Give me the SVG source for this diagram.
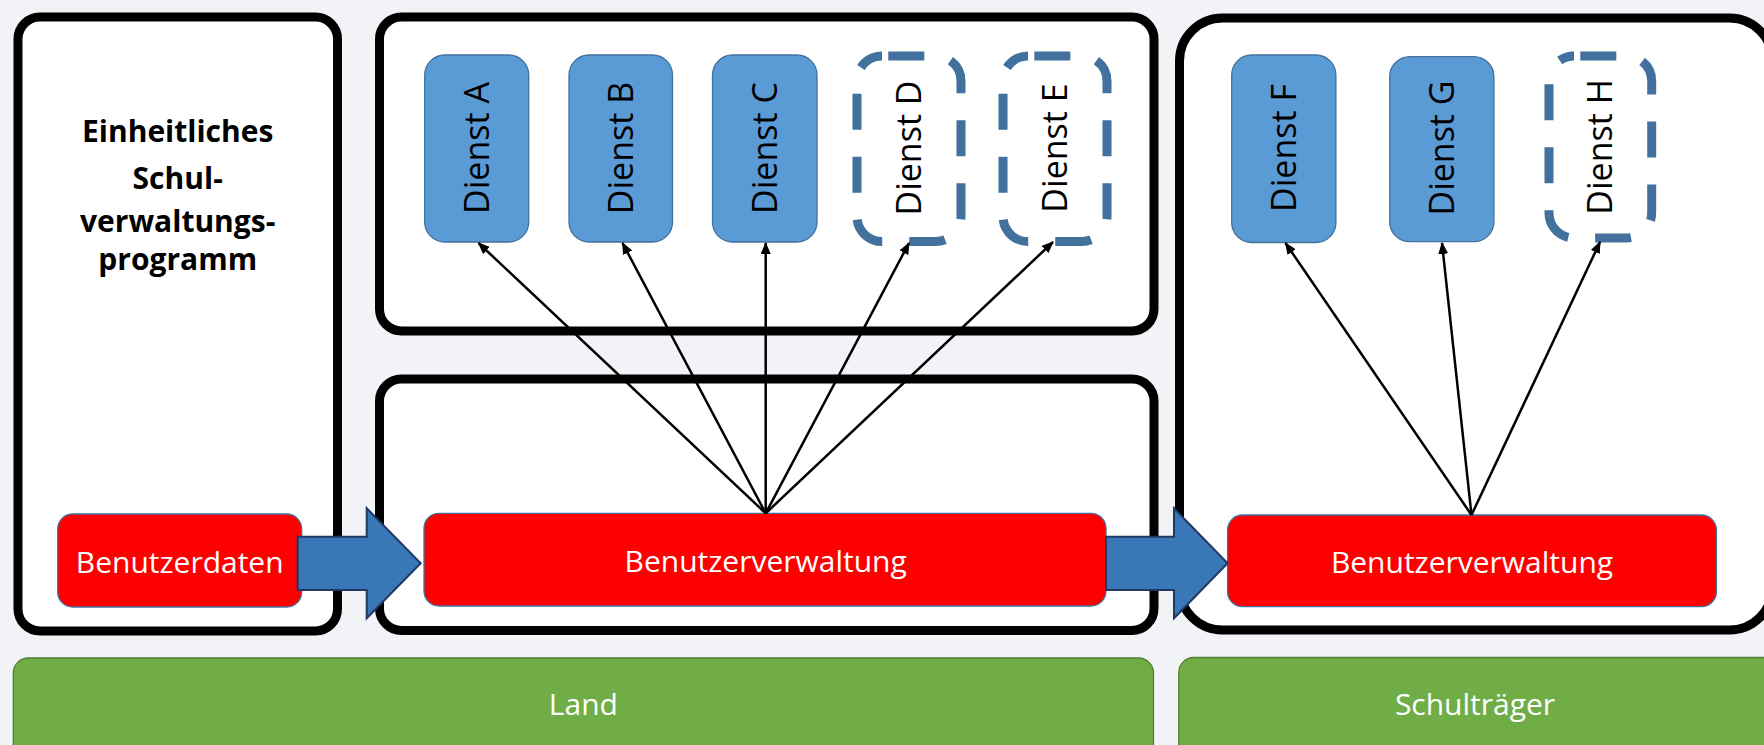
<svg xmlns="http://www.w3.org/2000/svg" width="1764" height="745" viewBox="0 0 1764 745">
<defs>
<style>
.cont{fill:#FFFFFF;stroke:#000000;stroke-width:9}
.svc{fill:#5B9BD5;stroke:#41719C;stroke-width:1.3}
.svcd{fill:#FFFFFF;stroke:#41719C;stroke-width:9;stroke-dasharray:36 27;stroke-dashoffset:56.7}
.red{fill:#FF0000;stroke:#41719C;stroke-width:1.3}
.green{fill:#70AD47;stroke:#507E32;stroke-width:1.3}
.blk{fill:#3A77B6;stroke:#1F3864;stroke-width:2;stroke-linejoin:miter}
.dt{font-family:"Open Sans","Liberation Sans",sans-serif;font-size:34px;fill:#000000;text-anchor:middle}
.wt{font-family:"Open Sans","Liberation Sans",sans-serif;font-size:30px;fill:#FFFFFF;text-anchor:middle}
.tt{font-family:"Open Sans","Liberation Sans",sans-serif;font-size:30px;font-weight:bold;fill:#000000;text-anchor:middle}
.con{stroke:#000000;stroke-width:2.5;fill:none;marker-end:url(#ah)}
</style>
<marker id="ah" viewBox="0 0 12 10" refX="11" refY="5" markerWidth="12" markerHeight="10" markerUnits="userSpaceOnUse" orient="auto">
<path d="M0,0 L12,5 L0,10 z" fill="#000000"/>
</marker>
</defs>
<rect x="0" y="0" width="1764" height="745" fill="#F2F3F7"/>

<g id="schulverwaltung">
<rect class="cont" x="18" y="17" width="319.5" height="614" rx="22" ry="22"/>
<text class="tt" x="177.7" y="141.5">Einheitliches</text>
<text class="tt" x="177.7" y="189">Schul-</text>
<text class="tt" x="177.7" y="232">verwaltungs-</text>
<text class="tt" x="177.7" y="270">programm</text>
</g>
<g id="dienste-land">
<rect class="cont" x="379.5" y="17" width="774.5" height="314" rx="22" ry="22"/>
</g>
<g id="verwaltung-land">
<rect class="cont" x="379.5" y="379" width="774.5" height="251.5" rx="22" ry="22"/>
</g>
<g id="schultraeger-bereich">
<rect class="cont" x="1179.5" y="18" width="593" height="612" rx="43" ry="43"/>
</g>

<g id="dienst-a">
<rect class="svc" x="424.7" y="55" width="104" height="187" rx="20" ry="20"/>
<text class="dt" transform="translate(476.7,148) rotate(-90)" x="0" y="12">Dienst A</text>
</g>
<g id="dienst-b">
<rect class="svc" x="569" y="55" width="103.5" height="187" rx="20" ry="20"/>
<text class="dt" transform="translate(620.7,148) rotate(-90)" x="0" y="12">Dienst B</text>
</g>
<g id="dienst-c">
<rect class="svc" x="712.5" y="55" width="104.5" height="187" rx="20" ry="20"/>
<text class="dt" transform="translate(764.7,148) rotate(-90)" x="0" y="12">Dienst C</text>
</g>
<g id="dienst-d">
<rect class="svcd" x="857" y="56" width="104" height="185.5" rx="25" ry="25"/>
<text class="dt" transform="translate(909,148) rotate(-90)" x="0" y="12">Dienst D</text>
</g>
<g id="dienst-e">
<rect class="svcd" x="1003" y="56" width="104" height="185.5" rx="25" ry="25"/>
<text class="dt" transform="translate(1055,148) rotate(-90)" x="0" y="12">Dienst E</text>
</g>
<g id="dienst-f">
<rect class="svc" x="1231.7" y="55" width="104.2" height="187.5" rx="20" ry="20"/>
<text class="dt" transform="translate(1283.8,148) rotate(-90)" x="0" y="12">Dienst F</text>
</g>
<g id="dienst-g">
<rect class="svc" x="1389.7" y="56.7" width="104.2" height="185" rx="20" ry="20"/>
<text class="dt" transform="translate(1441.8,148) rotate(-90)" x="0" y="12">Dienst G</text>
</g>
<g id="dienst-h">
<rect class="svcd" x="1549" y="56" width="102.7" height="182" rx="25" ry="25"/>
<text class="dt" transform="translate(1600.4,147) rotate(-90)" x="0" y="12">Dienst H</text>
</g>

<g id="benutzerdaten">
<rect class="red" x="57.7" y="514" width="244" height="93" rx="15" ry="15"/>
<text class="wt" x="179.7" y="572.7">Benutzerdaten</text>
</g>
<g id="benutzerverwaltung-land">
<rect class="red" x="424" y="513.3" width="682" height="92.7" rx="15" ry="15"/>
<text class="wt" x="765.7" y="572">Benutzerverwaltung</text>
</g>
<g id="benutzerverwaltung-schultraeger">
<rect class="red" x="1227.6" y="515" width="488.8" height="91.7" rx="15" ry="15"/>
<text class="wt" x="1472" y="572.7">Benutzerverwaltung</text>
</g>

<g id="land">
<rect class="green" x="13.3" y="658" width="1140.2" height="110" rx="15" ry="15"/>
<text class="wt" x="583.4" y="715">Land</text>
</g>
<g id="schultraeger">
<rect class="green" x="1178.8" y="657.5" width="600" height="110" rx="15" ry="15"/>
<text class="wt" x="1475" y="715">Schulträger</text>
</g>

<g id="connectors">
<line class="con" x1="765.7" y1="513.3" x2="478.5" y2="243"/>
<line class="con" x1="765.7" y1="513.3" x2="622.5" y2="243"/>
<line class="con" x1="765.7" y1="513.3" x2="765.7" y2="243"/>
<line class="con" x1="765.7" y1="513.3" x2="909" y2="243"/>
<line class="con" x1="765.7" y1="513.3" x2="1053" y2="242"/>
<line class="con" x1="1471.5" y1="515" x2="1285.5" y2="243"/>
<line class="con" x1="1471.5" y1="515" x2="1442" y2="243"/>
<line class="con" x1="1471.5" y1="515" x2="1600" y2="242"/>
<polygon class="blk" points="297.7,536.7 366.7,536.7 366.7,508.3 420.7,563.3 366.7,618.3 366.7,590 297.7,590"/>
<polygon class="blk" points="1106,536.7 1174,536.7 1174,508.3 1227.6,563.3 1174,618.3 1174,590 1106,590"/>
</g>
</svg>
